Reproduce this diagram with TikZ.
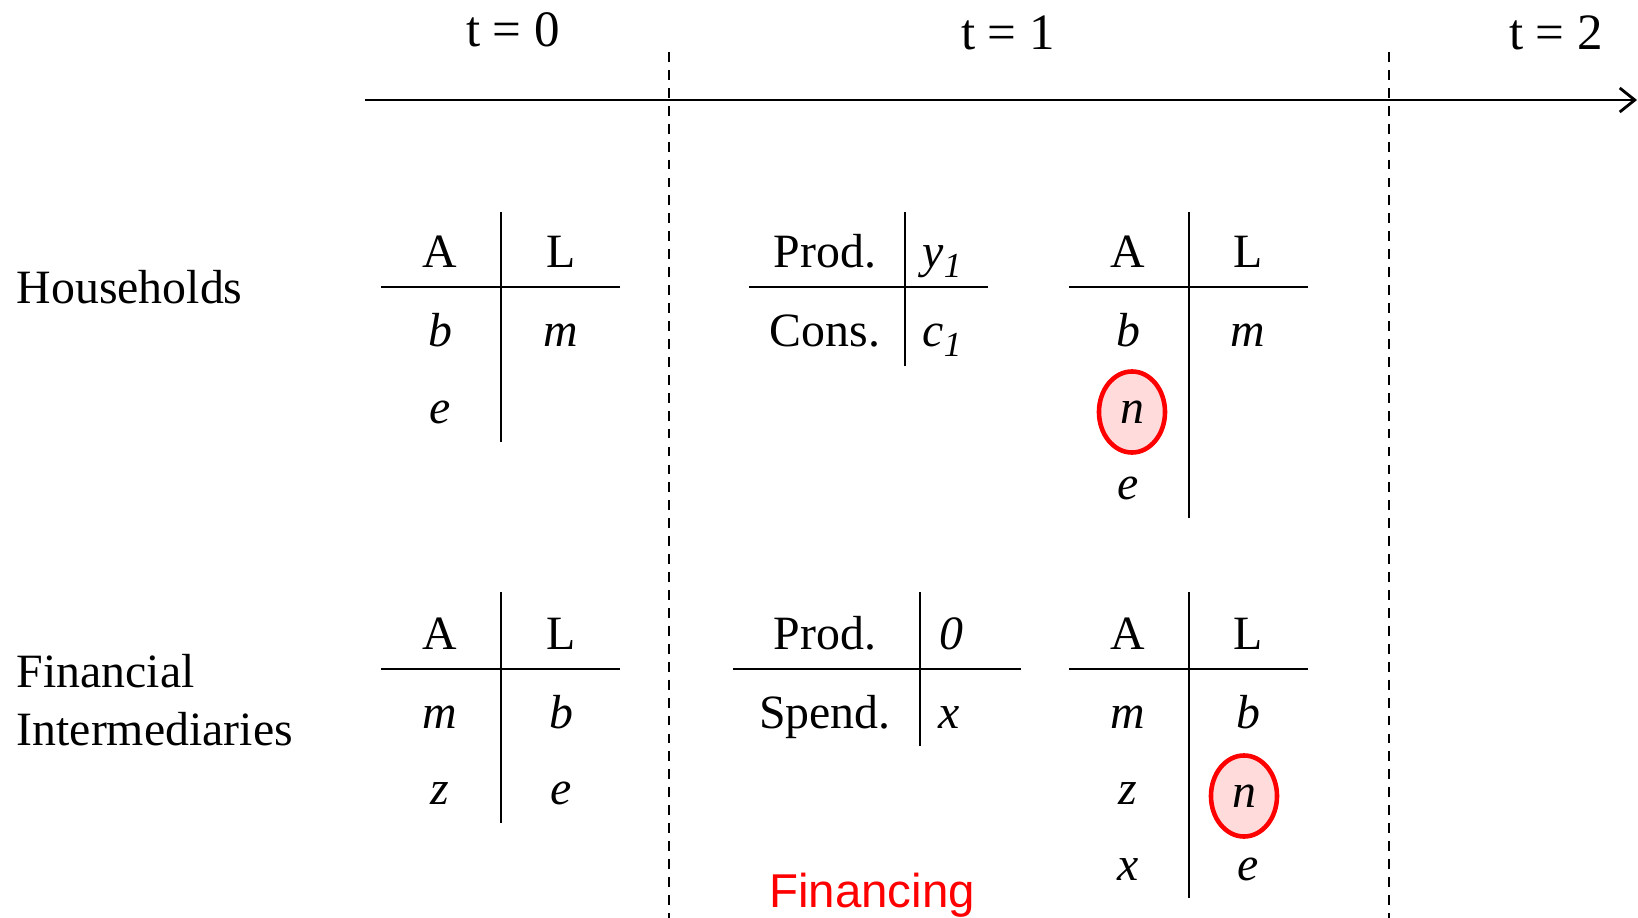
\documentclass[tikz,border=0pt]{standalone}
\usepackage{fontspec}
\setmainfont{Liberation Serif}
\newfontfamily\arialfont{Liberation Sans}
\usetikzlibrary{arrows.meta,shapes.geometric}
\newcommand{\lowsub}[1]{\raisebox{-0.45ex}{\fontsize{10}{10}\selectfont\itshape #1}}

\begin{document}
\begin{tikzpicture}[x=0.01cm,y=-0.01cm,
    lbl/.style={font=\fontsize{13.6}{16}\selectfont,inner sep=0pt,anchor=base},
    var/.style={font=\fontsize{13.6}{16}\selectfont\itshape,inner sep=0pt,anchor=base},
    period/.style={font=\fontsize{14.5}{17}\selectfont,inner sep=0pt,anchor=base},
    rule/.style={line width=0.85pt},
    divider/.style={dash pattern=on 2.8pt off 2.3pt,line width=0.8pt},
    flagged/.style={ellipse,draw=red,line width=1.3pt,fill=red!14,inner sep=0pt,
                    minimum width=6.6mm,minimum height=8.1mm,
                    font=\fontsize{13.6}{16}\selectfont\itshape}]
    \useasboundingbox (0,0) rectangle (1638,918);

    % time axis
    \coordinate (axstart) at (365,100);
    \coordinate (axend) at (1637,100);
    \draw[line width=0.8pt,-{Straight Barb[length=1.5mm,width=2.4mm]}] (axstart) -- (axend);
    \node[period] (t0) at (513,47) {t = 0};
    \node[period] (t1) at (1008,50) {t = 1};
    \node[period] (t2) at (1556,50) {t = 2};
    \draw[divider] (669,52) -- (669,918);
    \draw[divider] (1389,52) -- (1389,918);

    % sectors
    \node[lbl,anchor=base west] (hh) at (16,303) {Households};
    \node[lbl,anchor=base west] (fi1) at (16,687) {Financial};
    \node[lbl,anchor=base west] (fi2) at (16,745) {Intermediaries};

    % households, t = 0
    \draw[rule] (501,212) -- (501,442);
    \draw[rule] (381,287) -- (620,287);
    \node[lbl] (hhA0) at (440,268) {A};
    \node[lbl] (hhL0) at (561,268) {L};
    \node[var] (hhb0) at (440,347) {b};
    \node[var] (hhm0) at (561,347) {m};
    \node[var] (hhe0) at (440,423) {e};

    % households, t = 1
    \draw[rule] (905,212) -- (905,366);
    \draw[rule] (749,287) -- (988,287);
    \node[lbl] (hhprod) at (825,268) {Prod.};
    \node[var] (hhy) at (942,268) {y\lowsub{1}};
    \node[lbl] (hhcons) at (825,347) {Cons.};
    \node[var] (hhc) at (942,347) {c\lowsub{1}};

    \draw[rule] (1189,212) -- (1189,518);
    \draw[rule] (1069,287) -- (1308,287);
    \node[lbl] (hhA1) at (1128,268) {A};
    \node[lbl] (hhL1) at (1248,268) {L};
    \node[var] (hhb1) at (1128,347) {b};
    \node[var] (hhm1) at (1248,347) {m};
    \node[flagged] (hhn1) at (1132,412) {n};
    \node[var] (hhe1) at (1128,499) {e};

    % financial intermediaries, t = 0
    \draw[rule] (501,592) -- (501,823);
    \draw[rule] (381,669) -- (620,669);
    \node[lbl] (fiA0) at (440,649) {A};
    \node[lbl] (fiL0) at (561,649) {L};
    \node[var] (fim0) at (440,728) {m};
    \node[var] (fib0) at (561,728) {b};
    \node[var] (fiz0) at (440,804) {z};
    \node[var] (fie0) at (561,804) {e};

    % financial intermediaries, t = 1
    \draw[rule] (920,592) -- (920,746);
    \draw[rule] (733,669) -- (1021,669);
    \node[lbl] (fiprod) at (825,649) {Prod.};
    \node[var] (fizero) at (951,649) {0};
    \node[lbl] (fispend) at (825,728) {Spend.};
    \node[var] (fix) at (949,728) {x};

    \draw[rule] (1189,592) -- (1189,898);
    \draw[rule] (1069,669) -- (1308,669);
    \node[lbl] (fiA1) at (1128,649) {A};
    \node[lbl] (fiL1) at (1248,649) {L};
    \node[var] (fim1) at (1128,728) {m};
    \node[var] (fib1) at (1248,728) {b};
    \node[var] (fiz1) at (1128,804) {z};
    \node[flagged] (fin1) at (1244,796) {n};
    \node[var] (fix1) at (1128,880) {x};
    \node[var] (fie1) at (1248,880) {e};

    \node[inner sep=0pt,anchor=base,text=red,font=\arialfont\fontsize{13.5}{16}\selectfont]
        (financing) at (872,907) {Financing};
\end{tikzpicture}
\end{document}
